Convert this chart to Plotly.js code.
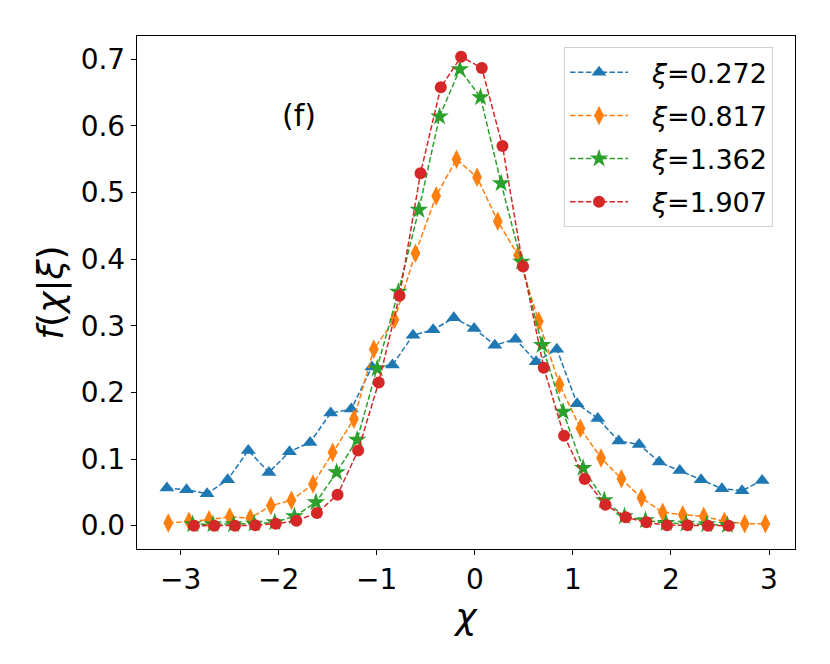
<!DOCTYPE html>
<html>
<head>
<meta charset="utf-8">
<script src="https://cdn.plot.ly/plotly-3.0.1.min.js"></script>
<style>
  html, body { margin: 0; padding: 0; background: #fff; }
  #chart { width: 830px; height: 664px; }
</style>
</head>
<body>
<div id="chart"></div>
<script>
'use strict';

// values
const seriesNames = ['<i>ξ</i>=0.272', '<i>ξ</i>=0.817', '<i>ξ</i>=1.362', '<i>ξ</i>=1.907'];

const chiA = [-3.14, -2.94, -2.73, -2.52, -2.31, -2.10, -1.89, -1.68, -1.47, -1.26, -1.05, -0.84, -0.63, -0.425, -0.214,
              -0.007, 0.204, 0.415, 0.625, 0.836, 1.043, 1.254, 1.468, 1.675, 1.88, 2.09, 2.307, 2.52, 2.725, 2.93];
const fA   = [0.0565, 0.054, 0.048, 0.069, 0.113, 0.080, 0.111, 0.125, 0.169, 0.175, 0.238, 0.241, 0.286, 0.294, 0.312,
              0.296, 0.271, 0.280, 0.246, 0.265, 0.183, 0.161, 0.127, 0.122, 0.0955, 0.083, 0.069, 0.0555, 0.0525, 0.068];

const chiB = [-3.126, -2.915, -2.71, -2.50, -2.29, -2.08, -1.87, -1.65, -1.45, -1.233, -1.03, -0.82, -0.605, -0.394, -0.187,
              0.023, 0.234, 0.441, 0.652, 0.863, 1.077, 1.287, 1.495, 1.70, 1.916, 2.12, 2.334, 2.545, 2.752, 2.963];
const fB   = [0.004, 0.0065, 0.009, 0.013, 0.0115, 0.030, 0.038, 0.0625, 0.110, 0.160, 0.265, 0.309, 0.409, 0.495, 0.550,
              0.523, 0.457, 0.406, 0.307, 0.212, 0.146, 0.1015, 0.0705, 0.0415, 0.020, 0.0165, 0.014, 0.0065, 0.003, 0.003];

const chiC = [-2.877, -2.67, -2.46, -2.25, -2.04, -1.84, -1.62, -1.41, -1.20, -0.996, -0.78, -0.571, -0.36, -0.153,
              0.058, 0.268, 0.475, 0.686, 0.90, 1.104, 1.32, 1.526, 1.74, 1.95, 2.155, 2.365, 2.576];
const fC   = [0.002, 0.002, 0.002, 0.003, 0.005, 0.014, 0.035, 0.080, 0.129, 0.236, 0.351, 0.474, 0.614, 0.685,
              0.643, 0.514, 0.396, 0.271, 0.171, 0.0865, 0.038, 0.014, 0.008, 0.004, 0.003, 0.002, 0.001];

const chiD = [-2.864, -2.657, -2.446, -2.24, -2.03, -1.82, -1.61, -1.40, -1.19, -0.98, -0.768, -0.554, -0.347, -0.14,
              0.071, 0.282, 0.492, 0.703, 0.91, 1.121, 1.332, 1.539, 1.75, 1.96, 2.168, 2.378, 2.589];
const fD   = [0.0, 0.0, 0.0, 0.0005, 0.003, 0.0075, 0.019, 0.0465, 0.113, 0.215, 0.345, 0.529, 0.658, 0.704,
              0.687, 0.570, 0.389, 0.237, 0.135, 0.070, 0.0315, 0.0125, 0.005, 0.0005, 0.0005, 0.0, 0.0];

const xTicks = [-3, -2, -1, 0, 1, 2, 3];
const yTicks = [0.0, 0.1, 0.2, 0.3, 0.4, 0.5, 0.6, 0.7];

const FONT = 'DejaVu Sans, sans-serif';
const colors = ['#1f77b4', '#ff7f0e', '#2ca02c', '#d62728'];
const symbols = ['triangle-up', 'diamond-tall', 'star', 'circle'];
const sizes = [13, 14, 14, 12];
const xs = [chiA, chiB, chiC, chiD], ys = [fA, fB, fC, fD];

// small gap between legend line sample and its label, like matplotlib's handletextpad
const PAD = '\u2002\u2009';

const traces = xs.map((x, i) => ({
    x, y: ys[i], type: 'scatter', mode: 'lines+markers', name: PAD + seriesNames[i],
    legendgroup: 'g' + i,
    line: { color: colors[i], width: 1.5, dash: '5.5px,2.4px' },
    marker: { color: colors[i], symbol: symbols[i], size: sizes[i], line: { width: 0 } }
}));

const axisBase = {
    showline: true, mirror: true, linecolor: '#000', linewidth: 1.2,
    ticks: 'outside', ticklen: 5, tickwidth: 1, tickcolor: '#000',
    showgrid: false, zeroline: false,
    tickfont: { family: FONT, size: 28, color: '#000' }
};

const layout = {
    width: 830, height: 664,
    paper_bgcolor: '#fff', plot_bgcolor: '#fff',
    margin: { l: 137, r: 35, t: 36, b: 115 },
    font: { family: FONT, color: '#000' },
    xaxis: Object.assign({}, axisBase, {
        range: [-3.445, 3.265], tickvals: xTicks,
        title: { text: '<i>χ</i>', font: { family: FONT, size: 36 }, standoff: 6 }
    }),
    yaxis: Object.assign({}, axisBase, {
        range: [-0.035, 0.735], tickvals: yTicks, tickformat: '.1f',
        title: { text: '<i>f</i>(<i>χ</i>|<i>ξ</i>)', font: { family: FONT, size: 36 }, standoff: 6 }
    }),
    showlegend: true,
    legend: {
        x: 0.649, y: 0.978, xanchor: 'left', yanchor: 'top',
        bgcolor: 'rgba(255,255,255,0.8)', bordercolor: '#d0d0d0', borderwidth: 1,
        font: { family: FONT, size: 27, color: '#000' },
        traceorder: 'grouped', tracegroupgap: 5, itemwidth: 58
    },
    annotations: [{
        x: -1.79, y: 0.615, xref: 'x', yref: 'y', text: '(f)', showarrow: false,
        font: { family: FONT, size: 30, color: '#000' }
    }]
};

Plotly.newPlot('chart', traces, layout, { staticPlot: true, displayModeBar: false });
</script>
</body>
</html>
